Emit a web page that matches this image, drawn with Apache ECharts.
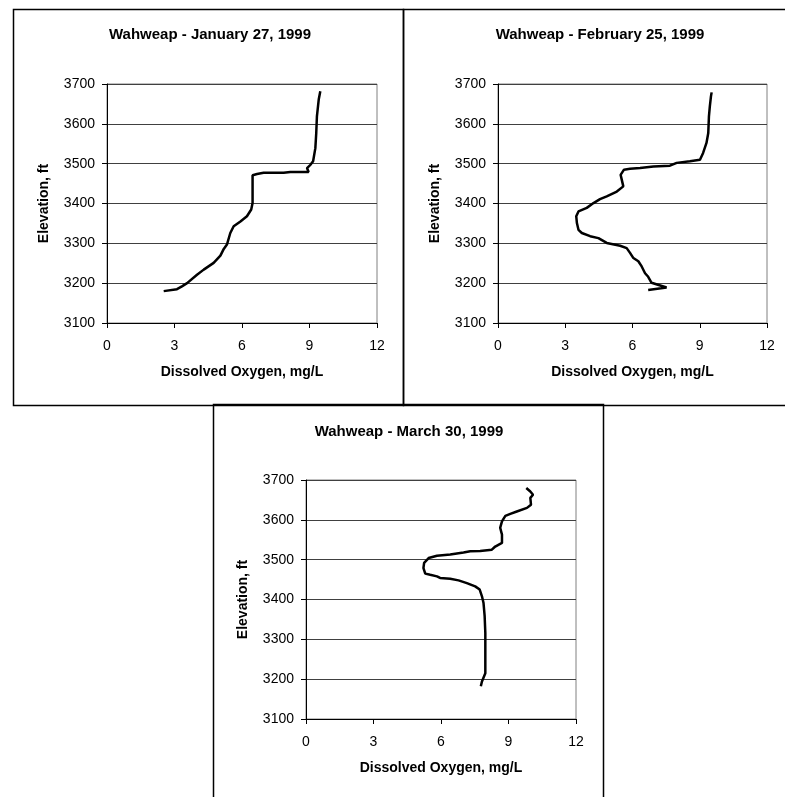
<!DOCTYPE html>
<html>
<head>
<meta charset="utf-8">
<script src="https://cdn.jsdelivr.net/npm/echarts@6/dist/echarts.min.js"></script>
<style>
html,body{margin:0;padding:0;background:#fff;}
#chart{width:785px;height:797px;}
</style>
</head>
<body>
<div id="chart"></div>
<script>
// ---- Data ----
const titles = ['Wahweap - January 27, 1999', 'Wahweap - February 25, 1999', 'Wahweap - March 30, 1999'];
const xAxisName = 'Dissolved Oxygen, mg/L';
const yAxisName = 'Elevation, ft';
const xTicks = [0, 3, 6, 9, 12];
const yTicks = [3100, 3200, 3300, 3400, 3500, 3600, 3700];

// January 27, 1999
const doJan   = [2.52, 3.11, 3.33, 3.56, 4.00, 4.30, 4.74, 5.04, 5.19, 5.33, 5.48, 5.63, 5.93, 6.22, 6.41, 6.47, 6.47, 6.67, 6.96, 7.85, 8.15, 8.96, 8.89, 9.04, 9.16, 9.26, 9.30, 9.33, 9.41, 9.48];
const elevJan = [3180, 3185, 3192, 3200, 3221, 3234, 3251, 3269, 3286, 3297, 3326, 3343, 3355, 3368, 3385, 3401, 3471, 3474, 3477, 3477, 3479, 3479, 3489, 3497, 3506, 3539, 3577, 3619, 3661, 3682];

// February 25, 1999
const doFeb   = [6.70, 7.52, 6.85, 6.70, 6.56, 6.41, 6.26, 6.04, 5.89, 5.74, 5.45, 4.85, 4.48, 4.11, 3.74, 3.59, 3.52, 3.49, 3.59, 3.96, 4.26, 4.55, 4.85, 5.30, 5.59, 5.52, 5.47, 5.62, 5.89, 6.34, 6.93, 7.67, 7.97, 8.56, 9.01, 9.15, 9.30, 9.38, 9.41, 9.45, 9.50, 9.53];
const elevFeb = [3183, 3189, 3201, 3216, 3225, 3242, 3255, 3263, 3276, 3288, 3294, 3301, 3313, 3318, 3326, 3334, 3351, 3368, 3380, 3389, 3401, 3411, 3418, 3430, 3443, 3460, 3472, 3485, 3487, 3489, 3493, 3495, 3502, 3506, 3510, 3527, 3552, 3577, 3619, 3644, 3669, 3679];

// March 30, 1999
const doMar   = [7.77, 7.82, 7.97, 7.97, 7.94, 7.89, 7.82, 7.72, 7.52, 7.15, 6.78, 6.41, 5.96, 5.82, 5.52, 5.30, 5.22, 5.25, 5.45, 5.82, 6.41, 7.00, 7.30, 7.74, 8.26, 8.41, 8.71, 8.71, 8.63, 8.71, 8.86, 9.08, 9.37, 9.82, 10.00, 9.97, 10.09, 9.97, 9.79];
const elevMar = [3182, 3194, 3215, 3316, 3358, 3391, 3408, 3425, 3433, 3441, 3448, 3452, 3454, 3458, 3462, 3465, 3479, 3492, 3504, 3510, 3513, 3518, 3521, 3522, 3525, 3533, 3542, 3563, 3580, 3596, 3610, 3615, 3621, 3630, 3638, 3655, 3663, 3671, 3680];

const profiles = [[doJan, elevJan], [doFeb, elevFeb], [doMar, elevMar]];

// ---- Layout ----
const grids = [
  {left: 107, top: 84, width: 270, height: 239},
  {left: 498, top: 84, width: 269, height: 239},
  {left: 306, top: 480, width: 270, height: 239}
];
const titlePos = [{x: 210, y: 27}, {x: 600, y: 27}, {x: 409, y: 424}];
const FONT = 'Arial, "Liberation Sans", sans-serif';

const chart = echarts.init(document.getElementById('chart'), null, {renderer: 'canvas'});

const option = {
  backgroundColor: '#ffffff',
  animation: false,
  title: titles.map((t, i) => ({
    text: t,
    left: titlePos[i].x,
    top: titlePos[i].y,
    textAlign: 'center',
    padding: 0,
    textStyle: {fontFamily: FONT, fontSize: 15, fontWeight: 'bold', color: '#000'}
  })),
  grid: grids.map(g => Object.assign({show: true, borderColor: '#808080', borderWidth: 1, backgroundColor: 'transparent', containLabel: false}, g)),
  xAxis: grids.map((g, i) => ({
    type: 'value', gridIndex: i, min: xTicks[0], max: xTicks[xTicks.length - 1], interval: 3,
    name: xAxisName, nameLocation: 'middle', nameGap: 42,
    nameTextStyle: {fontFamily: FONT, fontSize: 14, fontWeight: 'bold', color: '#000'},
    axisLine: {show: true, onZero: false, lineStyle: {color: '#000', width: 1}},
    axisTick: {show: true, inside: false, length: 5, lineStyle: {color: '#000'}},
    axisLabel: {margin: 16, fontFamily: FONT, fontSize: 14, color: '#000', formatter: v => String(v)},
    splitLine: {show: false}
  })),
  yAxis: grids.map((g, i) => ({
    type: 'value', gridIndex: i, min: yTicks[0], max: yTicks[yTicks.length - 1], interval: 100,
    name: yAxisName, nameLocation: 'middle', nameGap: 56, nameRotate: 90,
    nameTextStyle: {fontFamily: FONT, fontSize: 14, fontWeight: 'bold', color: '#000'},
    axisLine: {show: true, onZero: false, lineStyle: {color: '#000', width: 1}},
    axisTick: {show: true, inside: false, length: 5, lineStyle: {color: '#000'}},
    axisLabel: {margin: 12, fontFamily: FONT, fontSize: 14, color: '#000', formatter: v => String(v)},
    splitLine: {show: true, lineStyle: {color: '#404040', width: 1}}
  })),
  series: profiles.map((p, i) => ({
    type: 'line', xAxisIndex: i, yAxisIndex: i,
    data: p[0].map((v, k) => [v, p[1][k]]),
    showSymbol: false, symbol: 'none', smooth: false,
    lineStyle: {color: '#000', width: 2.5},
    itemStyle: {color: '#000'},
    z: 5
  })),
  graphic: [
    {type: 'rect', shape: {x: 13.5, y: 9.5, width: 390, height: 396}, style: {fill: 'none', stroke: '#000', lineWidth: 1.5}, silent: true, z: 100},
    {type: 'rect', shape: {x: 403.5, y: 9.5, width: 400, height: 396}, style: {fill: 'none', stroke: '#000', lineWidth: 1.5}, silent: true, z: 100},
    {type: 'rect', shape: {x: 213.5, y: 404.5, width: 390, height: 420}, style: {fill: 'none', stroke: '#000', lineWidth: 1.5}, silent: true, z: 100}
  ]
};
chart.setOption(option);
</script>
</body>
</html>
